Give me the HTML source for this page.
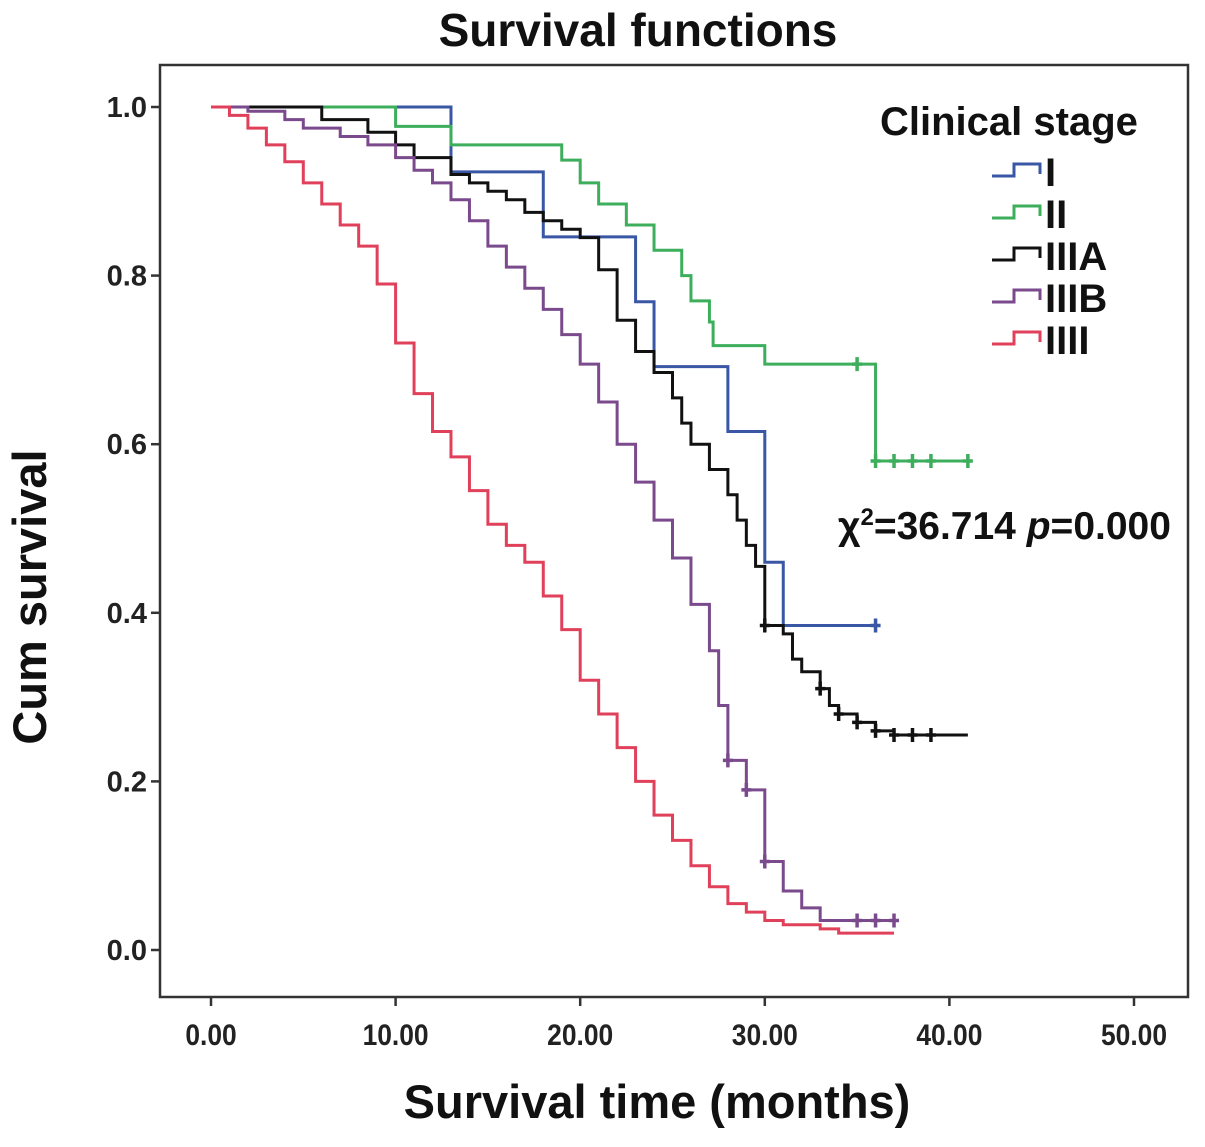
<!DOCTYPE html>
<html><head><meta charset="utf-8"><style>
body{margin:0;background:#fff;}
svg text{font-family:"Liberation Sans",Arial,sans-serif;font-weight:bold;}
</style></head><body>
<svg id="chart" width="1205" height="1142" viewBox="0 0 1205 1142">
<text x="638" y="46" font-size="46" text-anchor="middle" fill="#111">Survival functions</text>
<rect x="160" y="65" width="1028" height="932" fill="none" stroke="#333" stroke-width="2.5"/>
<g id="axes"></g>
<g id="series"></g>
<text x="657" y="1118" font-size="47" text-anchor="middle" fill="#111">Survival time (months)</text>
<text transform="translate(46,597) rotate(-90)" font-size="47" text-anchor="middle" fill="#111">Cum survival</text>
<text x="880" y="135" font-size="40" fill="#111">Clinical stage</text>
<g id="legend"></g>
<text x="838" y="539" font-size="39" fill="#111">χ<tspan font-size="24" dy="-14">2</tspan><tspan dy="14">=36.714 </tspan><tspan font-style="italic">p</tspan>=0.000</text>
</svg>
<script>
const xTicks=[0,10,20,30,40,50];
const xTickLabels=["0.00","10.00","20.00","30.00","40.00","50.00"];
const yTicks=[0,0.2,0.4,0.6,0.8,1.0];
const yTickLabels=["0.0","0.2","0.4","0.6","0.8","1.0"];
const seriesNames=["I","II","IIIA","IIIB","IIII"];
const seriesColors=["#3a57a6","#3cae5c","#111111","#7a4a8c","#e0405a"];
const stageI=[[0,1],[13,0.923],[18,0.846],[23,0.769],[24,0.692],[28,0.615],[30,0.46],[31,0.385]];
const stageIEnd=36;
const stageICensor=[36];
const stageII=[[0,1],[10,0.977],[13,0.955],[19,0.937],[20,0.91],[21,0.885],[22.5,0.86],[24,0.83],[25.5,0.8],[26,0.77],[27,0.745],[27.2,0.717],[30,0.695],[36,0.58]];
const stageIIEnd=41;
const stageIICensor=[35,36,37,38,39,41];
const stageIIIA=[[0,1],[6,0.985],[8.5,0.97],[10,0.955],[11,0.94],[13,0.92],[14,0.91],[15,0.9],[16,0.89],[17,0.875],[18,0.865],[19,0.855],[20,0.845],[21,0.807],[22,0.747],[23,0.71],[24,0.685],[25,0.655],[25.5,0.625],[26,0.6],[27,0.57],[28,0.54],[28.5,0.51],[29,0.48],[29.5,0.455],[30,0.385],[31,0.375],[31.5,0.345],[32,0.33],[33,0.31],[33.5,0.29],[34,0.28],[35,0.27],[36,0.26],[37,0.255]];
const stageIIIAEnd=41;
const stageIIIACensor=[30,33,34,35,36,37,38,39];
const stageIIIB=[[0,1],[2,0.995],[4,0.985],[5,0.975],[7,0.965],[8.5,0.955],[10,0.94],[11,0.925],[12,0.91],[13,0.89],[14,0.865],[15,0.835],[16,0.81],[17,0.785],[18,0.76],[19,0.73],[20,0.695],[21,0.65],[22,0.6],[23,0.555],[24,0.51],[25,0.465],[26,0.41],[27,0.355],[27.5,0.29],[28,0.225],[29,0.19],[30,0.105],[31,0.07],[32,0.05],[33,0.035]];
const stageIIIBEnd=37;
const stageIIIBCensor=[28,29,30,35,36,37];
const stageIIII=[[0,1],[1,0.99],[2,0.975],[3,0.955],[4,0.935],[5,0.91],[6,0.885],[7,0.86],[8,0.835],[9,0.79],[10,0.72],[11,0.66],[12,0.615],[13,0.585],[14,0.545],[15,0.505],[16,0.48],[17,0.46],[18,0.42],[19,0.38],[20,0.32],[21,0.28],[22,0.24],[23,0.2],[24,0.16],[25,0.13],[26,0.1],[27,0.075],[28,0.055],[29,0.045],[30,0.035],[31,0.03],[33,0.025],[34,0.02]];
const stageIIIIEnd=37;
const stageIIIICensor=[];

const NS="http://www.w3.org/2000/svg";
function xs(t){return 211+t*18.46;}
function ys(s){return 950-s*843;}
function mk(tag,attrs,parent){const e=document.createElementNS(NS,tag);for(const k in attrs)e.setAttribute(k,attrs[k]);parent.appendChild(e);return e;}
const axes=document.getElementById('axes');
xTicks.forEach((t,i)=>{
  const l=mk('line',{x1:xs(t),x2:xs(t),y1:997,y2:1006,stroke:'#333','stroke-width':2.5},axes);
  
  
  const tx=mk('text',{x:xs(t),y:1045,'font-size':30,'text-anchor':'middle',fill:'#222',transform:`translate(${xs(t)},0) scale(0.88,1) translate(${-xs(t)},0)`},axes);
  tx.textContent=xTickLabels[i];
  
  
});
yTicks.forEach((v,i)=>{
  const l=mk('line',{x1:151,x2:160,y1:ys(v),y2:ys(v),stroke:'#333','stroke-width':2.5},axes);
  
  
  const tx=mk('text',{x:147,y:ys(v)+10,'font-size':29,'text-anchor':'end',fill:'#222'},axes);
  tx.textContent=yTickLabels[i];
  
  
});
const seriesData=[stageI,stageII,stageIIIA,stageIIIB,stageIIII];
const seriesEnds=[stageIEnd,stageIIEnd,stageIIIAEnd,stageIIIBEnd,stageIIIIEnd];
const seriesCensor=[stageICensor,stageIICensor,stageIIIACensor,stageIIIBCensor,stageIIIICensor];
const sg=document.getElementById('series');
function valAt(d,t){let v=d[0][1];for(const p of d){if(p[0]<=t)v=p[1];}return v;}
seriesData.forEach((d,i)=>{
  let p=`M${xs(d[0][0])},${ys(d[0][1])}`;
  for(let k=1;k<d.length;k++){p+=` H${xs(d[k][0])} V${ys(d[k][1])}`;}
  p+=` H${xs(seriesEnds[i])}`;
  const path=mk('path',{d:p,fill:'none',stroke:seriesColors[i],'stroke-width':3},sg);
  
  
  seriesCensor[i].forEach(t=>{
    const y=ys(valAt(d,t));
    const c=mk('path',{d:`M${xs(t)},${y-7} V${y+7} M${xs(t)-5},${y} H${xs(t)+5}`,stroke:seriesColors[i],'stroke-width':3.5},sg);
    
    
  });
});
const lg=document.getElementById('legend');
seriesNames.forEach((n,i)=>{
  const y=170+i*42;
  const g=mk('g',{},lg);
  
  
  mk('path',{d:`M992,${y+6} H1014 V${y-6} H1040 V${y+4}`,fill:'none',stroke:seriesColors[i],'stroke-width':3},g);
  const t=mk('text',{x:1045,y:y+16,'font-size':40,fill:'#111'},g);
  t.textContent=n;
});
</script>
</body></html>
